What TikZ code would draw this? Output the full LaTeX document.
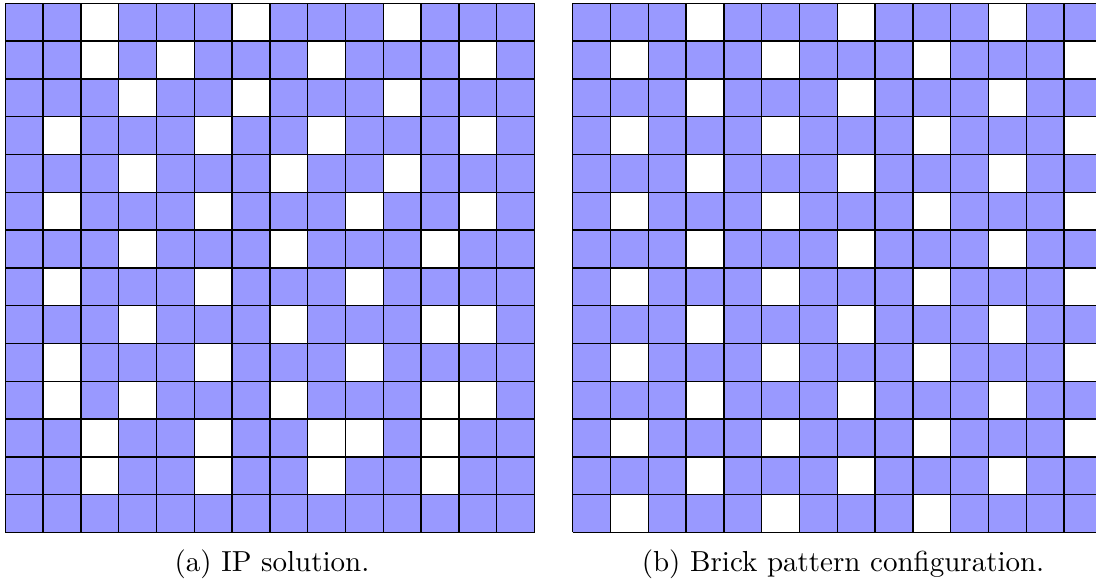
\documentclass[tikz,border=0pt]{standalone}
\definecolor{cellblue}{RGB}{153,153,255}
\begin{document}
\begin{tikzpicture}[x=0.345pt,y=-0.345pt,
  gridline/.style={draw=black,line width=0.45pt},
  emptycell/.style={fill=white},
  caption/.style={anchor=base,inner sep=0pt}]
\useasboundingbox (0,0) rectangle (1096,580);
\clip (0,0) rectangle (1096,580);
\def\cs{37.8}
% (a) IP solution
\begin{scope}[shift={(5.3,3.3)}]
  \fill[cellblue] (0,0) rectangle ({14*\cs},{14*\cs});
  \foreach \r/\cols in {1/{3,7,11},2/{3,5,9,13},3/{4,7,11},4/{2,6,9,13},
      5/{4,8,11},6/{2,6,10,13},7/{4,8,12},8/{2,6,10},9/{4,8,12,13},
      10/{2,6,10},11/{2,4,8,12,13},12/{3,6,9,10,12},13/{3,6,9,12}}{
    \foreach \c in \cols {
      \fill[emptycell] ({(\c-1)*\cs},{(\r-1)*\cs}) rectangle ++(\cs,\cs);
    }
  }
  \foreach \i in {0,...,14} {
    \draw[gridline] ({\i*\cs},0) -- ({\i*\cs},{14*\cs});
    \draw[gridline] (0,{\i*\cs}) -- ({14*\cs},{\i*\cs});
  }
\end{scope}
% (b) Brick pattern
\begin{scope}[shift={(572.7,3.3)}]
  \fill[cellblue] (0,0) rectangle ({14*\cs},{14*\cs});
  \foreach \r/\cols in {1/{4,8,12},2/{2,6,10,14},3/{4,8,12},4/{2,6,10,14},
      5/{4,8,12},6/{2,6,10,14},7/{4,8,12},8/{2,6,10,14},9/{4,8,12},
      10/{2,6,10,14},11/{4,8,12},12/{2,6,10,14},13/{4,8,12},14/{2,6,10}}{
    \foreach \c in \cols {
      \fill[emptycell] ({(\c-1)*\cs},{(\r-1)*\cs}) rectangle ++(\cs,\cs);
    }
  }
  \foreach \i in {0,...,14} {
    \draw[gridline] ({\i*\cs},0) -- ({\i*\cs},{14*\cs});
    \draw[gridline] (0,{\i*\cs}) -- ({14*\cs},{\i*\cs});
  }
\end{scope}
\node[caption] (capa) at (272,572) {(a) IP solution.};
\node[caption] (capb) at (843,572) {(b) Brick pattern configuration.};
\end{tikzpicture}
\end{document}
